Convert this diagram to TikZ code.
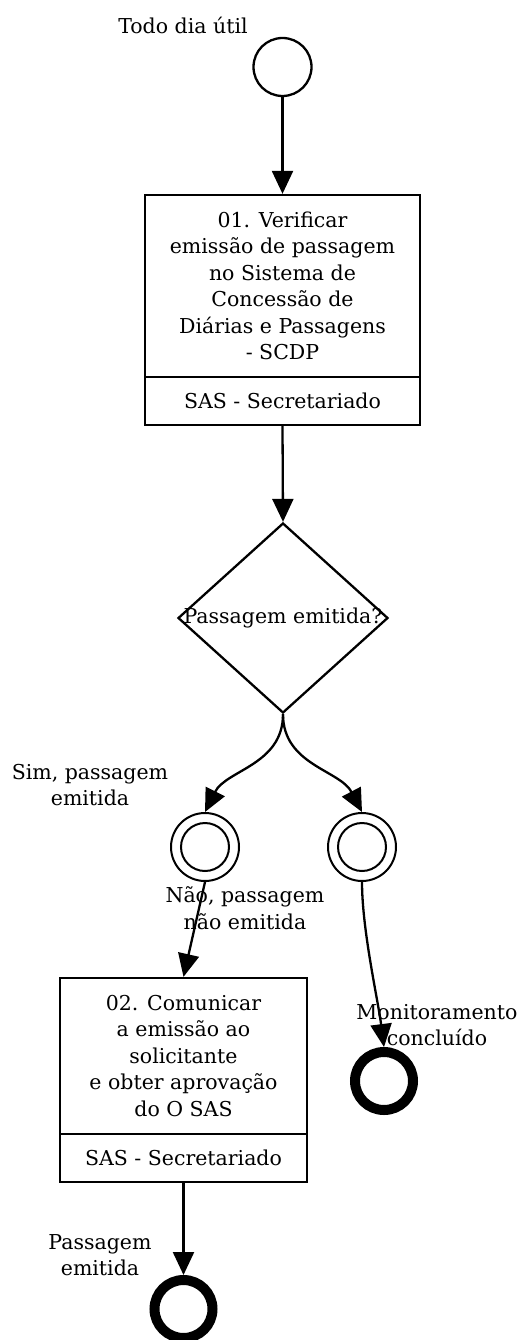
\documentclass[tikz,border=0pt]{standalone}
\usepackage{fontspec}
\setmainfont{DejaVu Serif}
\usetikzlibrary{shapes.geometric,arrows.meta}
\begin{document}
\begin{tikzpicture}[x=1pt,y=-1pt,
  txt/.style={font=\fontsize{20.5}{26.5}\selectfont, align=center, inner sep=0pt},
  flow/.style={line width=2.3pt, -{Triangle[length=23pt,width=21pt]}},
  taskpart/.style={txt, draw, line width=2.3pt, rectangle, minimum width=#1},
  startev/.style={circle, draw, line width=2.3pt, minimum size=58pt, inner sep=0pt},
  interev/.style={circle, draw, line width=2pt, minimum size=68pt, inner sep=0pt},
  endev/.style={circle, draw, line width=10pt, minimum size=58pt, inner sep=0pt},
  gateway/.style={diamond, draw, line width=2.3pt, minimum width=210pt, minimum height=190pt, inner sep=0pt}
]
\useasboundingbox (0,0) rectangle (521,1340);

% start event
\node[startev] (start) at (282.5,67) {};
\node[txt] (startlbl) at (183,25) {Todo dia útil};

% task 01
\node[taskpart=275pt, minimum height=182pt] (t1) at (282.5,286)
  {01. Verificar\\emissão de passagem\\no Sistema de\\Concessão de\\Diárias e Passagens\\- SCDP};
\node[taskpart=275pt, minimum height=48pt] (t1r) at (282.5,401) {SAS - Secretariado};

% gateway
\node[gateway] (gw) at (283,618) {};
\node[txt] (gwlbl) at (gw.center) {Passagem emitida?};

% intermediate events
\node[interev] (c1) at (205,847) {};
\draw[line width=2pt] (c1.center) circle (24);
\node[interev] (c2) at (362,847) {};
\draw[line width=2pt] (c2.center) circle (24);
\node[txt] (simlbl) at (90,785) {Sim, passagem\\emitida};
\node[txt] (naolbl) at (245,908) {Não, passagem\\não emitida};

% task 02
\node[taskpart=247pt, minimum height=156pt] (t2) at (183.5,1056)
  {02. Comunicar\\a emissão ao\\solicitante\\e obter aprovação\\do O SAS};
\node[taskpart=247pt, minimum height=48pt] (t2r) at (183.5,1158) {SAS - Secretariado};

% end events
\node[endev] (e2) at (384,1081) {};
\node[endev] (e3) at (183.5,1309) {};

% connectors
\draw[flow] (start.south) -- (t1.north);
\draw[flow] (t1r.south) -- (gw.north);
\draw[flow] (gw.south) .. controls (283,765) and (226,770) .. (c1.north);
\draw[flow] (gw.south) .. controls (283,765) and (340,770) .. (c2.north);
\draw[flow] (c1.south) -- (t2.north);
\draw[flow] (c2.south) .. controls (362,930) and (378,1000) .. (e2.north);
\draw[flow] (t2r.south) -- (e3.north);

% labels drawn over the connectors
\node[txt] (monlbl) at (437,1025) {Monitoramento\\concluído};
\node[txt] (pelbl) at (100,1255) {Passagem\\emitida};
\end{tikzpicture}
\end{document}
